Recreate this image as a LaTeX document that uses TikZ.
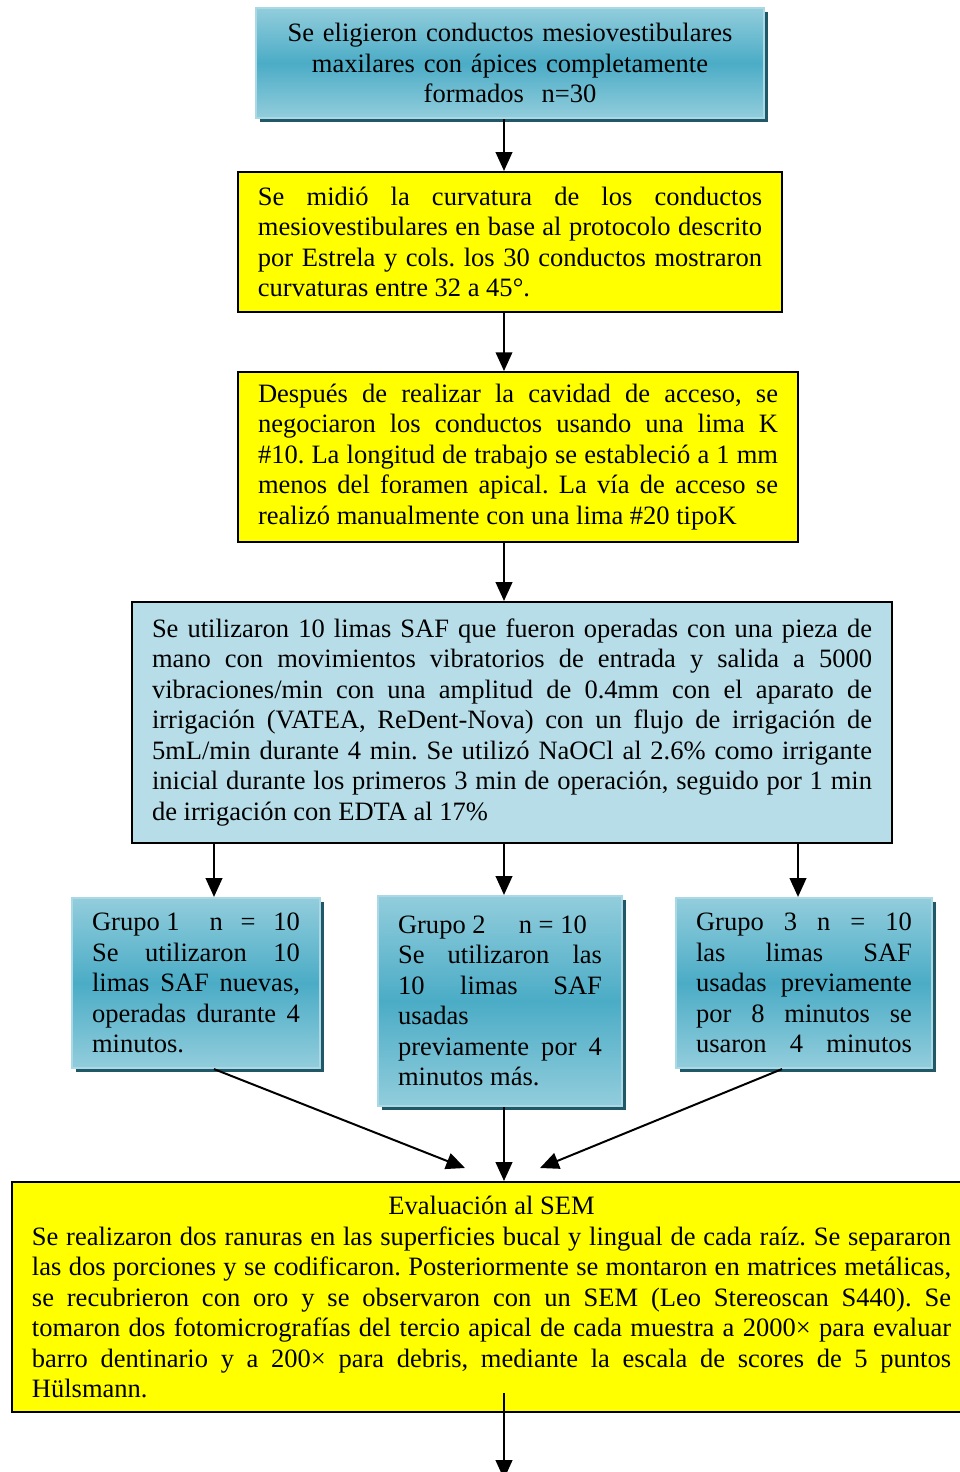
\documentclass[tikz,border=0pt]{standalone}
\usepackage{fontspec}
\setmainfont{Liberation Serif}
\usetikzlibrary{arrows.meta,shadows,calc}
\frenchspacing

\definecolor{azulclaro}{RGB}{146,205,220}
\definecolor{azuloscuro}{RGB}{75,172,198}
\definecolor{azulborde}{RGB}{170,216,229}
\definecolor{sombra}{RGB}{32,88,103}
\definecolor{celeste}{RGB}{183,222,232}
\definecolor{amarillo}{RGB}{255,255,0}

\tikzset{
  texto/.style={inner xsep=9.05pt, inner ysep=0pt, font=\fontsize{12}{13.8}\selectfont, align=justify},
  caja/.style={texto, draw=black, line width=0.9pt},
  degradado/.style={texto, draw=azulborde, line width=1pt,
    top color=azulclaro, bottom color=azulclaro, middle color=azuloscuro,
    drop shadow={shadow xshift=1.8pt, shadow yshift=-1.8pt, fill=sombra, opacity=1}},
  flecha/.style={-{Triangle[length=8.5pt,width=7.5pt]}, line width=0.9pt},
}

\begin{document}
\begin{tikzpicture}[x=0.4525pt, y=-0.4525pt]

    \useasboundingbox (0,0) rectangle (959,1472);

    % Columns of the arrows
    \coordinate (eje) at (504,0);
    \coordinate (ejeA) at (214,0);
    \coordinate (ejeC) at (798,0);
    \coordinate (salidaC) at (782,0);

    % Selection
    \node[degradado, align=center, text width=211.8pt, minimum height=49.8pt] (seleccion) at (510,63)
        {Se eligieron conductos mesiovestibulares\\ maxilares con ápices completamente\\ formados~~n=30};

    % Curvature
    \node[caja, fill=amarillo, text width=228.1pt, minimum height=63.4pt] (curvatura) at (510,242)
        {Se midió la curvatura de los conductos\linebreak
         mesiovestibulares en base al protocolo descrito\linebreak
         por Estrela y cols. los 30 conductos mostraron\linebreak
         curvaturas entre 32 a 45°.};

    % Access
    \node[caja, fill=amarillo, text width=235.3pt, minimum height=76.9pt] (acceso) at (518,457)
        {Después de realizar la cavidad de acceso, se\linebreak
         negociaron los conductos usando una lima K\linebreak
         \#10. La longitud de trabajo se estableció a 1 mm\linebreak
         menos del foramen apical. La vía de acceso se\linebreak
         realizó manualmente con una lima \#20 tipoK};

    % SAF protocol
    \node[caja, fill=celeste, text width=325.8pt, minimum height=109.1pt] (protocolo) at (512,722.5)
        {Se utilizaron 10 limas SAF que fueron operadas con una pieza de\linebreak
         mano con movimientos vibratorios de entrada y salida a 5000\linebreak
         vibraciones/min con una amplitud de 0.4mm con el aparato de\linebreak
         irrigación (VATEA, ReDent-Nova) con un flujo de irrigación de\linebreak
         5mL/min durante 4 min. Se utilizó NaOCl al 2.6\% como irrigante\linebreak
         inicial durante los primeros 3 min de operación, seguido por 1 min\linebreak
         de irrigación con EDTA al 17\%};

    % Groups
    \node[degradado, text width=94.1pt, minimum height=76.9pt] (grupoA) at (196,983)
        {Grupo 1\hspace{13.5pt}n\hfill=\hfill 10\newline
         Se utilizaron 10\linebreak
         limas SAF nuevas,\linebreak
         operadas durante 4\linebreak
         minutos.};
    \node[degradado, text width=92.3pt, minimum height=95pt] (grupoB) at (500,1001)
        {Grupo 2\hspace{15pt}n = 10\newline
         Se utilizaron las\linebreak
         10 limas SAF\linebreak
         usadas\newline
         previamente por 4\linebreak
         minutos más.};
    \node[degradado, text width=97.7pt, minimum height=76.9pt] (grupoC) at (804,983)
        {\parfillskip=0pt
         Grupo\hfill 3\hfill n\hfill =\hfill 10\newline
         las limas SAF\linebreak
         usadas previamente\linebreak
         por 8 minutos se\linebreak
         usaron\hfill 4\hfill minutos};

    % SEM evaluation
    \node[caja, fill=amarillo, text width=415.9pt, minimum height=104.1pt] (evaluacion) at (491.5,1297)
        {\centerline{Evaluación al SEM}
         Se realizaron dos ranuras en las superficies bucal y lingual de cada raíz. Se separaron\linebreak
         las dos porciones y se codificaron. Posteriormente se montaron en matrices metálicas,\linebreak
         se recubrieron con oro y se observaron con un SEM (Leo Stereoscan S440). Se\linebreak
         tomaron dos fotomicrografías del tercio apical de cada muestra a 2000× para evaluar\linebreak
         barro dentinario y a 200× para debris, mediante la escala de scores de 5 puntos\linebreak
         Hülsmann.};

    % Free ends
    \coordinate (llegadaA) at (465,1168);
    \coordinate (llegadaC) at (540,1168);
    \coordinate (fin) at (504,1479);

    % Arrows
    \draw[flecha] (seleccion.south -| eje) -- (curvatura.north -| eje);
    \draw[flecha] (curvatura.south -| eje) -- (acceso.north -| eje);
    \draw[flecha] (acceso.south -| eje) -- (protocolo.north -| eje);
    \draw[flecha] (protocolo.south -| ejeA) -- (grupoA.north -| ejeA);
    \draw[flecha] (protocolo.south -| eje) -- (grupoB.north -| eje);
    \draw[flecha] (protocolo.south -| ejeC) -- (grupoC.north -| ejeC);
    \draw[flecha] (grupoA.south -| ejeA) -- (llegadaA);
    \draw[flecha] (grupoB.south -| eje) -- (evaluacion.north -| eje);
    \draw[flecha] (grupoC.south -| salidaC) -- (llegadaC);
    \draw[flecha] ($(evaluacion.south -| eje)+(0,-20)$) -- (fin);

\end{tikzpicture}
\end{document}
